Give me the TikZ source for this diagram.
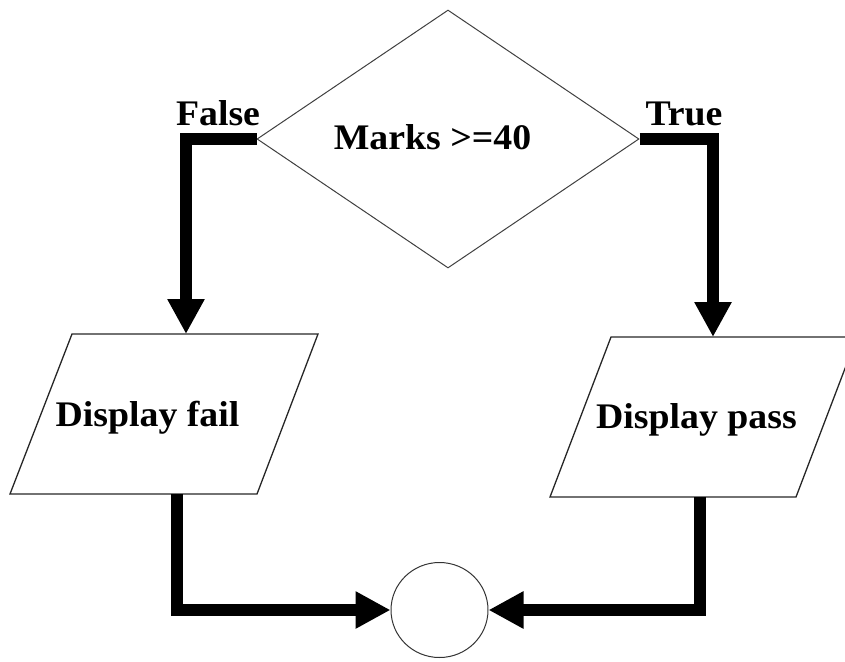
\documentclass[tikz,border=0pt]{standalone}
\usepackage{fontspec}
\usetikzlibrary{shapes.geometric,arrows.meta}
\newfontfamily\lblfont[FakeStretch=1.05]{Liberation Serif}
\begin{document}
\begin{tikzpicture}[x=1pt,y=-1pt,
  txt/.style={font=\lblfont\bfseries\fontsize{36}{36}\selectfont,inner sep=0pt,anchor=base},
  decbox/.style={draw=black!75,line width=1pt,diamond,inner sep=0pt,minimum width=382pt,minimum height=258pt},
  ioline/.style={draw=black!85,line width=1.3pt,line join=miter},
  endbox/.style={draw=black!80,line width=1pt,ellipse,minimum width=97pt,minimum height=95pt,inner sep=0pt},
  conn/.style={line width=12pt,-{Triangle[length=35pt,width=35pt]}}]
\useasboundingbox (0,0) rectangle (845,661);
% decision
\node[decbox] (dec) at (448,139) {};
\node[txt] (dectext) at (432.5,149) {Marks >=40};
% input/output boxes
\coordinate (ftl) at (72,334);  \coordinate (ftr) at (318,334);
\coordinate (fbr) at (257,494); \coordinate (fbl) at (10,494);
\coordinate (ptl) at (611,337); \coordinate (ptr) at (857,337);
\coordinate (pbr) at (796,497); \coordinate (pbl) at (550,497);
\draw[ioline] (ftl) -- (ftr) -- (fbr) -- (fbl) -- cycle;
\draw[ioline] (ptl) -- (ptr) -- (pbr) -- (pbl) -- cycle;
\node[txt] (fail) at (147.5,426) {Display fail};
\node[txt] (pass) at (696.5,428) {Display pass};
% terminal
\node[endbox] (end) at (439.5,610) {};
% labels
\node[txt] (lf) at (218,125) {False};
\node[txt] (lt) at (684,125) {True};
% connector end points
\coordinate (failin) at (186,334);
\coordinate (passin) at (713,337);
\coordinate (failout) at (177,494);
\coordinate (passout) at (700,497);
\draw[conn] (dec.west) -| (failin);
\draw[conn] (dec.east) -| (passin);
\draw[conn] (failout) |- (end.west);
\draw[conn] (passout) |- (end.east);
\end{tikzpicture}
\end{document}
